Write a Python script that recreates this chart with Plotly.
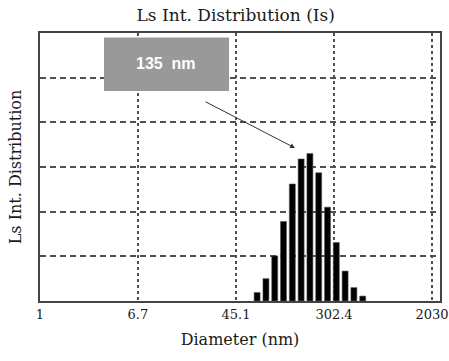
import plotly.graph_objects as go

# Data
diameters = [67.9, 80.6, 95.6, 113.4, 134.6, 159.7, 189.4, 224.7, 266.7, 316.3, 375.3, 445.1, 528.1]
intensity = [0.19, 0.50, 1.01, 1.78, 2.62, 3.18, 3.30, 2.87, 2.10, 1.31, 0.67, 0.30, 0.11]
tick_vals = [1, 6.7, 45.1, 302.4, 2030]
tick_text = ["1", "6.7", "45.1", "302.4", "2030"]
peak_label = "135&nbsp;&nbsp;nm"

# bar edges in log space (bin step in decades, bar fraction of the step)
log_step = 0.0742
bar_frac = 0.68
half = 10 ** (log_step * bar_frac / 2)
lefts = [d / half for d in diameters]
rights = [d * half for d in diameters]
offsets = [l - d for l, d in zip(lefts, diameters)]
widths = [r - l for l, r in zip(lefts, rights)]

serif = "DejaVu Serif"
grid_col = "#505050"
frame_col = "#444444"
txt_col = "#1a1a1a"

fig = go.Figure()
fig.add_trace(go.Bar(x=diameters, y=intensity, offset=offsets, width=widths,
                     marker=dict(color="#000000", line=dict(width=0.6, color="#555")),
                     showlegend=False))

fig.update_layout(
    width=449, height=361,
    margin=dict(l=40, r=9, t=33, b=60, autoexpand=False),
    paper_bgcolor="white", plot_bgcolor="white",
    title=dict(text="Ls Int. Distribution (Is)", x=0.525, xanchor="center", y=0.957, yanchor="middle",
               font=dict(family=serif, size=17, color=txt_col)),
    font=dict(family=serif, color=txt_col),
)
fig.update_xaxes(
    type="log", range=[0, 3.375], automargin=False,
    tickvals=tick_vals, ticktext=tick_text,
    tickfont=dict(family=serif, size=13, color=txt_col),
    ticklabeloverflow="allow",
    showgrid=True, gridcolor=grid_col, gridwidth=2, griddash="3px,3px",
    showline=True, linecolor=frame_col, linewidth=2, mirror=True,
    ticks="", zeroline=False,
    title=dict(text="Diameter (nm)", font=dict(family=serif, size=16, color=txt_col), standoff=13),
)
fig.update_yaxes(
    range=[0, 6], dtick=1, showticklabels=False, automargin=False,
    showgrid=True, gridcolor=grid_col, gridwidth=2, griddash="6px,4px",
    showline=True, linecolor=frame_col, linewidth=2, mirror=True,
    ticks="", zeroline=False,
    title=dict(text="Ls Int. Distribution", font=dict(family=serif, size=16, color=txt_col), standoff=12),
)

# label box
fig.add_shape(type="rect", xref="paper", yref="paper", x0=0.16, x1=0.4725, y0=0.784, y1=0.983,
              fillcolor="#999999", line=dict(width=0), layer="above")
fig.add_annotation(xref="paper", yref="paper", x=0.316, y=0.885, xanchor="center", yanchor="middle",
                   text="<b>" + peak_label + "</b>",
                   showarrow=False, font=dict(family="Liberation Sans", size=16, color="white"))
# arrow
fig.add_annotation(xref="paper", yref="paper", x=(295 - 40) / 400, y=(301 - 148) / 268, text="",
                   showarrow=True, arrowhead=2, arrowsize=1, arrowwidth=1, arrowcolor="#333",
                   ax=-91, ay=-47)

fig.write_html("out.html")
